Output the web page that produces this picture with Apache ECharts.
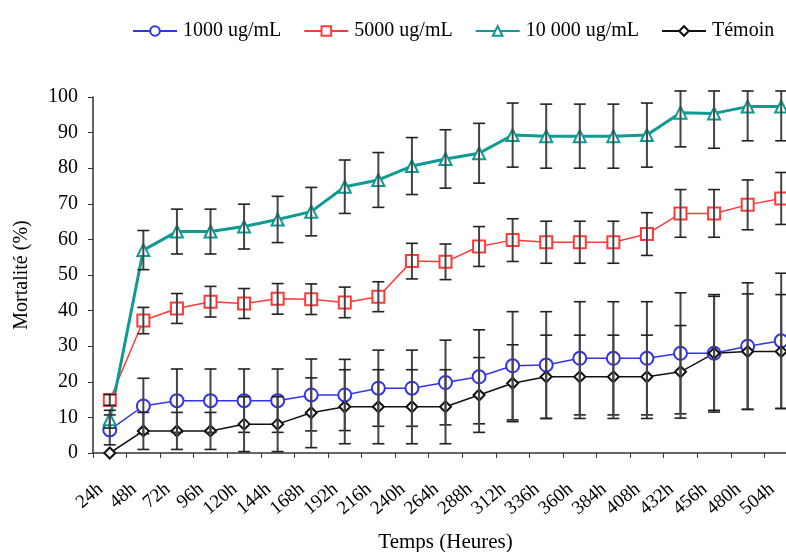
<!DOCTYPE html>
<html>
<head>
<meta charset="utf-8">
<script src="https://cdn.jsdelivr.net/npm/echarts@6/dist/echarts.min.js"></script>
<style>
html,body{margin:0;padding:0;background:#fff;}
#chart{width:786px;height:552px;}
</style>
</head>
<body>
<div id="chart"></div>
<script>
var categories = ['24h','48h','72h','96h','120h','144h','168h','192h','216h','240h','264h','288h','312h','336h','360h','384h','408h','432h','456h','480h','504h'];

var names = ['1000 ug/mL', '5000 ug/mL', '10 000 ug/mL', 'Témoin'];

var dose1000 = [6.5, 13.2, 14.7, 14.7, 14.7, 14.7, 16.3, 16.3, 18.2, 18.2, 19.8, 21.4, 24.5, 24.7, 26.6, 26.6, 26.6, 28.0, 28.0, 30.0, 31.5];
var err1000  = [4.2, 7.8, 8.9, 8.9, 8.9, 8.9, 10.1, 10.0, 10.7, 10.7, 11.9, 13.2, 15.2, 15.0, 15.9, 15.9, 15.9, 17.0, 16.5, 17.8, 19.0];

var dose5000 = [14.9, 37.2, 40.6, 42.5, 42.0, 43.3, 43.2, 42.3, 43.9, 53.9, 53.7, 58.0, 59.8, 59.2, 59.2, 59.2, 61.5, 67.3, 67.3, 69.7, 71.5];
var err5000  = [1.5, 3.7, 4.2, 4.3, 4.2, 4.3, 4.3, 4.3, 4.2, 5.0, 5.0, 5.6, 6.0, 5.9, 5.9, 5.9, 6.0, 6.7, 6.7, 7.0, 7.3];

var dose10000 = [9.5, 57.0, 62.2, 62.2, 63.6, 65.6, 67.8, 74.8, 76.7, 80.6, 82.6, 84.2, 89.3, 89.0, 89.0, 89.0, 89.3, 95.6, 95.4, 97.3, 97.3];
var err10000  = [2.5, 5.5, 6.3, 6.3, 6.3, 6.5, 6.8, 7.5, 7.7, 8.0, 8.2, 8.4, 9.0, 9.0, 9.0, 9.0, 9.0, 9.6, 9.8, 9.6, 9.6];

var temoin = [0, 6.2, 6.2, 6.2, 8.1, 8.1, 11.3, 13.0, 13.0, 13.0, 13.0, 16.3, 19.6, 21.4, 21.4, 21.4, 21.4, 22.8, 28.0, 28.5, 28.5];
var errTemoin = [0, 5.2, 5.2, 5.2, 7.7, 7.7, 9.8, 10.4, 10.4, 10.4, 10.4, 10.5, 10.8, 11.7, 11.7, 11.7, 11.7, 13.0, 16.0, 16.2, 16.0];

var yTicks = [0, 10, 20, 30, 40, 50, 60, 70, 80, 90, 100];

var FONT = 'Liberation Serif';
var chart = echarts.init(document.getElementById('chart'), null, {renderer: 'canvas'});

function errData(vals, errs) {
  return vals.map(function (v, i) { return [i, v - errs[i], v + errs[i]]; });
}

function renderErr(params, api) {
  var x = api.value(0);
  var lo = api.coord([x, Math.max(0, api.value(1))]);
  var hi = api.coord([x, api.value(2)]);
  var topLimit = params.coordSys.y - 6;
  if (hi[1] < topLimit) hi[1] = topLimit;
  if (Math.abs(lo[1] - hi[1]) < 1) return null;
  var w = 6;
  var st = {stroke: '#222', lineWidth: 1.6};
  return {
    type: 'group',
    children: [
      {type: 'line', shape: {x1: hi[0], y1: hi[1], x2: lo[0], y2: lo[1]}, style: {stroke: '#444', lineWidth: 2}},
      {type: 'line', shape: {x1: hi[0] - w, y1: hi[1], x2: hi[0] + w, y2: hi[1]}, style: st},
      {type: 'line', shape: {x1: lo[0] - w, y1: lo[1], x2: lo[0] + w, y2: lo[1]}, style: st}
    ]
  };
}

var colors = ['#3333ee', '#ff3a3a', '#0f9a92', '#111111'];
var values = [dose1000, dose5000, dose10000, temoin];
var errs = [err1000, err5000, err10000, errTemoin];
var symbols = ['emptyCircle', 'emptyRect', 'emptyTriangle', 'emptyDiamond'];
var sizes = [13, 12, 12, 11];
var widths = [1.5, 1.5, 3, 1.5];

var series = [];
for (var k = 0; k < 4; k++) {
  series.push({
    name: names[k],
    type: 'line',
    data: values[k],
    symbol: symbols[k],
    symbolSize: sizes[k],
    itemStyle: {color: colors[k], borderColor: colors[k], borderWidth: 1.5},
    lineStyle: {color: colors[k], width: widths[k]},
    z: 3,
    animation: false
  });
}
for (var k2 = 0; k2 < 4; k2++) {
  series.push({
    name: names[k2] + ' err',
    type: 'custom',
    data: errData(values[k2], errs[k2]),
    renderItem: renderErr,
    clip: false,
    z: 5,
    silent: true,
    animation: false
  });
}

chart.setOption({
  backgroundColor: '#ffffff',
  animation: false,
  textStyle: {fontFamily: FONT, color: '#000'},
  legend: {
    data: names,
    top: 16,
    left: 127,
    itemWidth: 44,
    itemHeight: 12,
    itemGap: 22,
    textStyle: {fontFamily: FONT, fontSize: 20, color: '#000', padding: [0, 0, 0, 1]}
  },
  grid: {left: 93, right: -12, top: 97, bottom: 99, containLabel: false, outerBoundsMode: 'none'},
  xAxis: {
    type: 'category',
    data: categories,
    boundaryGap: true,
    name: 'Temps (Heures)',
    nameLocation: 'middle',
    nameGap: 79,
    nameMoveOverlap: false,
    nameTextStyle: {fontFamily: FONT, fontSize: 21, color: '#000'},
    axisLine: {lineStyle: {color: '#333', width: 1.5}},
    axisTick: {show: true, length: 5, lineStyle: {color: '#333'}},
    axisLabel: {rotate: 40, fontFamily: FONT, fontSize: 19, color: '#000', margin: 26, interval: 0, padding: [0, 12, 0, 0]},
    splitLine: {show: false}
  },
  yAxis: {
    type: 'value',
    min: 0,
    max: 100,
    interval: 10,
    name: 'Mortalité (%)',
    nameLocation: 'middle',
    nameGap: 61,
    nameMoveOverlap: false,
    nameTextStyle: {fontFamily: FONT, fontSize: 20, color: '#000'},
    axisLine: {show: true, lineStyle: {color: '#333', width: 1.5}},
    axisTick: {show: true, length: 5, lineStyle: {color: '#333'}},
    axisLabel: {fontFamily: FONT, fontSize: 20, color: '#000', margin: 15,
      formatter: function (v) { return yTicks.indexOf(v) >= 0 ? String(v) : ''; }},
    splitLine: {show: false}
  },
  series: series
});
</script>
</body>
</html>
